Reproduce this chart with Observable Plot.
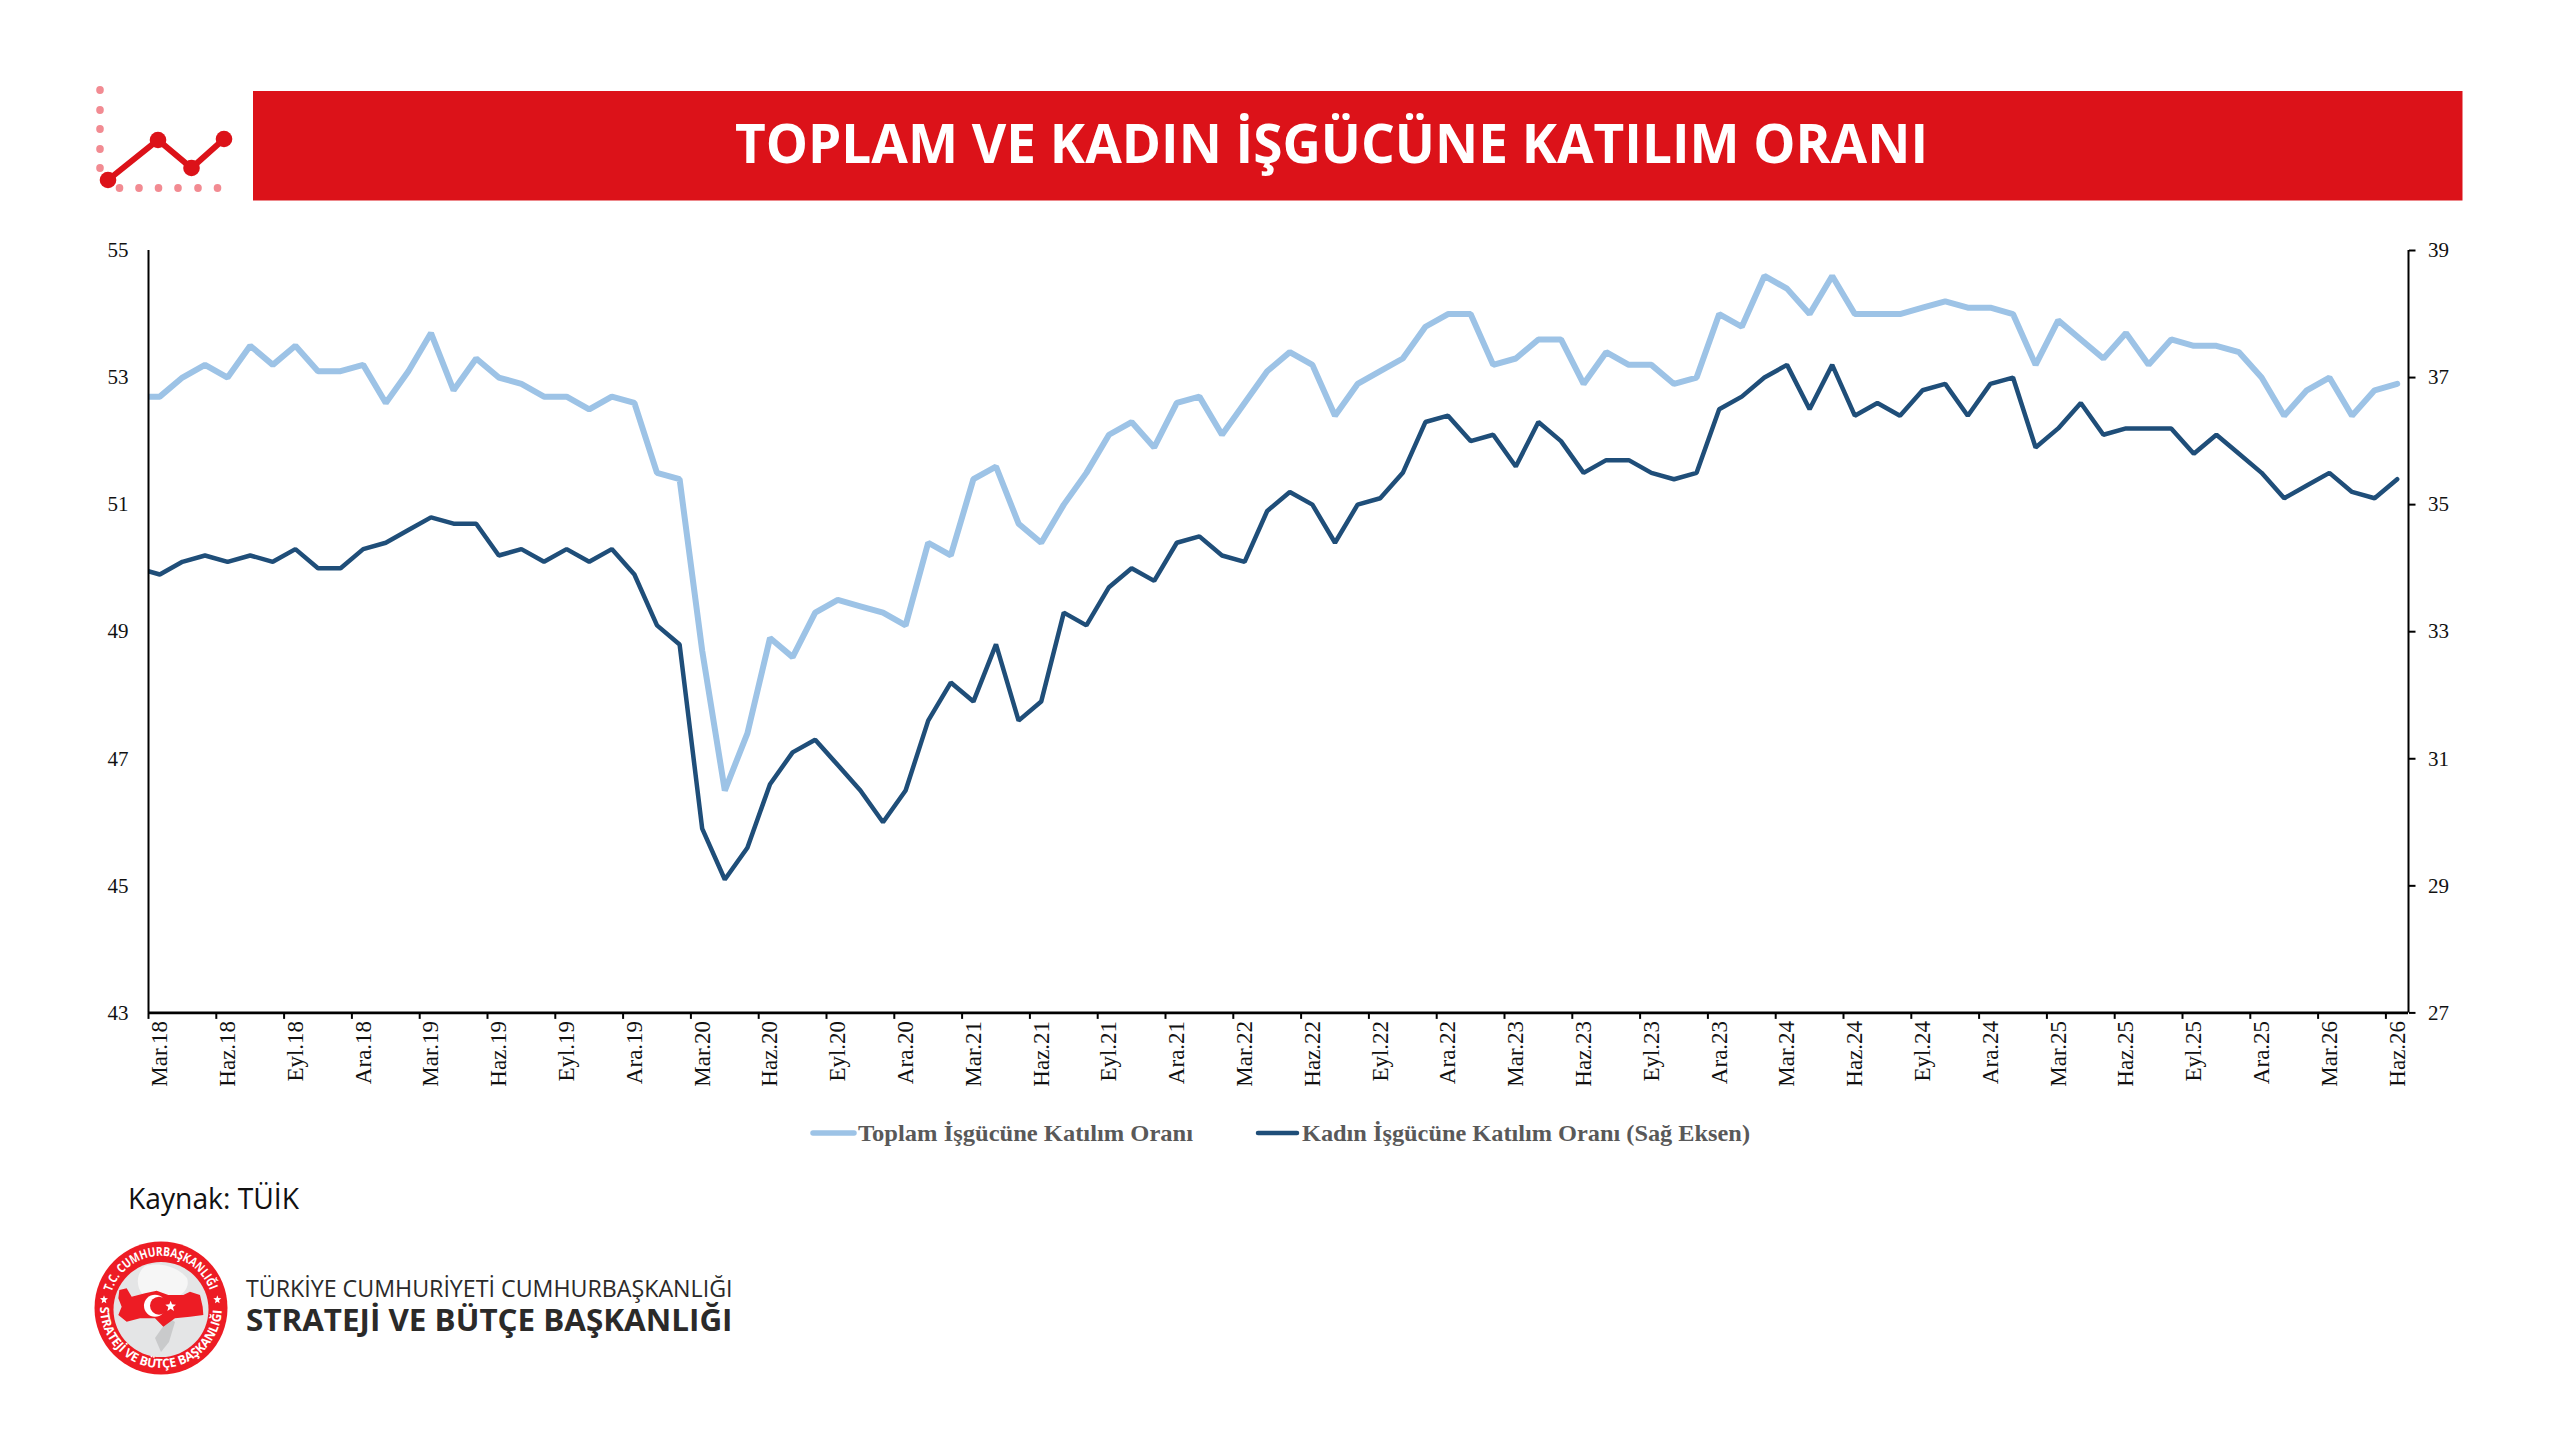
<!DOCTYPE html>
<html lang="tr">
<head>
<meta charset="utf-8">
<title>Toplam ve Kadın İşgücüne Katılım Oranı</title>
<script src="https://cdn.jsdelivr.net/npm/d3@7"></script>
<script src="https://cdn.jsdelivr.net/npm/@observablehq/plot@0.6"></script>
<style>
  html, body { margin: 0; padding: 0; background: #fff; overflow: hidden; }
  #page { position: relative; width: 2560px; height: 1441px; overflow: hidden; }
  #page > svg, #chart { position: absolute; }
  #chart { left: 0; top: 230px; }
  #chart svg { display: block; }
</style>
</head>
<body>
<div id="page">
  <!-- Header -->
  <svg style="left:0;top:0" width="2560" height="230" viewBox="0 0 2560 230">
    <g fill="#F28B92">
      <ellipse cx="100" cy="90" rx="3.8" ry="4"/><ellipse cx="100" cy="110" rx="3.8" ry="4"/>
      <ellipse cx="100" cy="129" rx="3.8" ry="4"/><ellipse cx="100" cy="149" rx="3.8" ry="4"/>
      <ellipse cx="100" cy="168" rx="3.8" ry="4"/>
      <ellipse cx="119.5" cy="188" rx="3.8" ry="4"/><ellipse cx="139" cy="188" rx="3.8" ry="4"/>
      <ellipse cx="158.5" cy="188" rx="3.8" ry="4"/><ellipse cx="178" cy="188" rx="3.8" ry="4"/>
      <ellipse cx="198" cy="188" rx="3.8" ry="4"/><ellipse cx="217.5" cy="188" rx="3.8" ry="4"/>
    </g>
    <polyline points="108,180 158,140 191.5,168 224,139" fill="none" stroke="#DC1219" stroke-width="6"/>
    <g fill="#DC1219">
      <circle cx="108" cy="180" r="8.3"/><circle cx="158" cy="140" r="8.3"/>
      <circle cx="191.5" cy="168" r="8.3"/><circle cx="224" cy="139" r="8.3"/>
    </g>
    <rect x="253" y="91" width="2209.5" height="109.5" fill="#DC1219"/>
    <text x="735" y="163" fill="#fff" font-family="'Open Sans'" font-weight="700" font-size="54"
      textLength="1193" lengthAdjust="spacingAndGlyphs">TOPLAM VE KADIN İŞGÜCÜNE KATILIM ORANI</text>
  </svg>

  <div id="chart"></div>

  <!-- Legend, source, logo -->
  <svg style="left:0;top:1100px" width="2560" height="341" viewBox="0 1100 2560 341">
    <line x1="813" x2="854" y1="1133" y2="1133" stroke="#9DC3E6" stroke-width="5.5" stroke-linecap="round"/>
    <text x="858" y="1140.5" fill="#595959" font-family="'Liberation Serif'" font-weight="700" font-size="24"
      textLength="335" lengthAdjust="spacingAndGlyphs">Toplam İşgücüne Katılım Oranı</text>
    <line x1="1258" x2="1297" y1="1133" y2="1133" stroke="#1F4E79" stroke-width="4.5" stroke-linecap="round"/>
    <text x="1302" y="1140.5" fill="#595959" font-family="'Liberation Serif'" font-weight="700" font-size="24"
      textLength="448" lengthAdjust="spacingAndGlyphs">Kadın İşgücüne Katılım Oranı (Sağ Eksen)</text>

    <text x="128" y="1209" fill="#111" font-family="'Open Sans'" font-size="30"
      textLength="171" lengthAdjust="spacingAndGlyphs">Kaynak: TÜİK</text>

    <g transform="translate(161 1308)">
      <circle r="66.5" fill="#ED1C24"/>
      <circle r="47.5" cy="1.5" fill="#E4E5E6"/>
      <path d="M-16 -42 C-30 -30 -22 -8 -6 -8 C18 -6 30 -18 26 -30 C16 -42 -2 -46 -16 -42Z" fill="#F6F6F6"/>
      <path d="M8 10 L-6 30 L0 44 L8 34 L14 14Z" fill="#C9CACB"/>
      <g transform="translate(-161 -1308) translate(90 1240) scale(0.3333)">
        <path fill="#ED1C24" d="M88 150 L110 145 L125 170 L165 160 L200 152 L235 165 L280 165 L300 155 L330 165 L338 200 L340 225 L300 230 L255 235 L220 260 L195 235 L150 235 L110 245 L85 225 L95 200 L85 175Z"/>
        <circle cx="195" cy="197" r="33" fill="#fff"/>
        <circle cx="207" cy="197" r="27" fill="#ED1C24"/>
        <polygon fill="#fff" points="242,182 246,193 258,194 249,201 252,213 242,206 232,213 235,201 226,194 238,193"/>
        <polygon fill="#fff" points="42,166 45,174 54,175 47,181 49,190 42,185 35,190 37,181 30,175 39,174"/>
        <polygon fill="#fff" points="382,166 385,174 394,175 387,181 389,190 382,185 375,190 377,181 370,175 379,174"/>
      </g>
      <path id="arcTop" d="M-49.5 -16 A52 52 0 0 1 49.5 -16" fill="none"/>
      <path id="arcBottom" d="M-61 -1 A61 61 0 1 0 61 -1" fill="none"/>
      <text fill="#fff" font-family="'Open Sans'" font-weight="700" font-size="12.5">
        <textPath href="#arcTop" textLength="129" lengthAdjust="spacingAndGlyphs">T.C. CUMHURBAŞKANLIĞI</textPath>
      </text>
      <text fill="#fff" font-family="'Open Sans'" font-weight="700" font-size="12.5">
        <textPath href="#arcBottom" textLength="188" lengthAdjust="spacingAndGlyphs">STRATEJİ VE BÜTÇE BAŞKANLIĞI</textPath>
      </text>
    </g>

    <text x="246" y="1297" fill="#2B2A29" font-family="'Open Sans'" font-size="24.5"
      textLength="486.5" lengthAdjust="spacingAndGlyphs">TÜRKİYE CUMHURİYETİ CUMHURBAŞKANLIĞI</text>
    <text x="246" y="1331" fill="#2B2A29" font-family="'Open Sans'" font-weight="700" font-size="30"
      textLength="486.5" lengthAdjust="spacingAndGlyphs">STRATEJİ VE BÜTÇE BAŞKANLIĞI</text>
  </svg>
</div>

<script>
// Şub.18 opens each series: the line enters the frame from that month and is clipped at the axis.
const toplam = [
  52.7,
  52.7, 53.0, 53.2, 53.0, 53.5, 53.2, 53.5, 53.1, 53.1, 53.2, 52.6, 53.1,
  53.7, 52.8, 53.3, 53.0, 52.9, 52.7, 52.7, 52.5, 52.7, 52.6, 51.5, 51.4,
  48.7, 46.5, 47.4, 48.9, 48.6, 49.3, 49.5, 49.4, 49.3, 49.1, 50.4, 50.2,
  51.4, 51.6, 50.7, 50.4, 51.0, 51.5, 52.1, 52.3, 51.9, 52.6, 52.7, 52.1,
  52.6, 53.1, 53.4, 53.2, 52.4, 52.9, 53.1, 53.3, 53.8, 54.0, 54.0, 53.2,
  53.3, 53.6, 53.6, 52.9, 53.4, 53.2, 53.2, 52.9, 53.0, 54.0, 53.8, 54.6,
  54.4, 54.0, 54.6, 54.0, 54.0, 54.0, 54.1, 54.2, 54.1, 54.1, 54.0, 53.2,
  53.9, 53.6, 53.3, 53.7, 53.2, 53.6, 53.5, 53.5, 53.4, 53.0, 52.4, 52.8,
  53.0, 52.4, 52.8, 52.9
];
const kadin = [
  34.0,
  33.9, 34.1, 34.2, 34.1, 34.2, 34.1, 34.3, 34.0, 34.0, 34.3, 34.4, 34.6,
  34.8, 34.7, 34.7, 34.2, 34.3, 34.1, 34.3, 34.1, 34.3, 33.9, 33.1, 32.8,
  29.9, 29.1, 29.6, 30.6, 31.1, 31.3, 30.9, 30.5, 30.0, 30.5, 31.6, 32.2,
  31.9, 32.8, 31.6, 31.9, 33.3, 33.1, 33.7, 34.0, 33.8, 34.4, 34.5, 34.2,
  34.1, 34.9, 35.2, 35.0, 34.4, 35.0, 35.1, 35.5, 36.3, 36.4, 36.0, 36.1,
  35.6, 36.3, 36.0, 35.5, 35.7, 35.7, 35.5, 35.4, 35.5, 36.5, 36.7, 37.0,
  37.2, 36.5, 37.2, 36.4, 36.6, 36.4, 36.8, 36.9, 36.4, 36.9, 37.0, 35.9,
  36.2, 36.6, 36.1, 36.2, 36.2, 36.2, 35.8, 36.1, 35.8, 35.5, 35.1, 35.3,
  35.5, 35.2, 35.1, 35.4
];
const etiketler = [
  "Mar.18","Haz.18","Eyl.18","Ara.18","Mar.19","Haz.19","Eyl.19","Ara.19",
  "Mar.20","Haz.20","Eyl.20","Ara.20","Mar.21","Haz.21","Eyl.21","Ara.21",
  "Mar.22","Haz.22","Eyl.22","Ara.22","Mar.23","Haz.23","Eyl.23","Ara.23",
  "Mar.24","Haz.24","Eyl.24","Ara.24","Mar.25","Haz.25","Eyl.25","Ara.25",
  "Mar.26","Haz.26"
];
const solEksen = [43, 45, 47, 49, 51, 53, 55];
const sagEksen = [27, 29, 31, 33, 35, 37, 39];

// Month number 0 = Mar.18; the leading entry of each series is month -1.
const ay = toplam.map((_, i) => i - 1);
const etiketAy = etiketler.map((_, i) => i * 3);
const sagdanSola = d3.scaleLinear(d3.extent(sagEksen), d3.extent(solEksen));

const serif = "'Liberation Serif'";
const plot = Plot.plot({
  width: 2560,
  height: 870,
  marginLeft: 148,
  marginRight: 152,
  marginTop: 20,
  marginBottom: 87.6,
  style: { background: "transparent", fontFamily: serif },
  x: { type: "linear", domain: [-0.5, 99.5], axis: null },
  y: { type: "linear", domain: [43, 55], axis: null },
  marks: [
    Plot.line(ay, { x: d => d, y: (d, i) => toplam[i], stroke: "#9DC3E6", strokeWidth: 6,
      strokeLinejoin: "miter", strokeLinecap: "round", clip: true }),
    Plot.line(ay, { x: d => d, y: (d, i) => sagdanSola(kadin[i]), stroke: "#1F4E79", strokeWidth: 4.5,
      strokeLinejoin: "miter", strokeLinecap: "round", clip: true }),
    Plot.axisY({ anchor: "left", ticks: solEksen, tickSize: 0, tickPadding: 20, fontSize: 21,
      fill: "#111", tickFormat: d => String(d), label: null }),
    Plot.axisY({ anchor: "right", ticks: solEksen, tickSize: 6.5, tickPadding: 13, fontSize: 21,
      stroke: "#000", strokeWidth: 2, fill: "#111", tickFormat: (d, i) => String(sagEksen[i]), label: null }),
    Plot.axisX({ anchor: "bottom", ticks: etiketAy.map(d => d - 0.5), tickSize: 6.5, tickFormat: () => "",
      stroke: "#000", strokeWidth: 2, label: null }),
    Plot.ruleX([-0.5, 99.5], { stroke: "#000", strokeWidth: 2 }),
    Plot.ruleY([43], { stroke: "#000", strokeWidth: 2.6 }),
    Plot.text(etiketler, { x: (d, i) => etiketAy[i], y: () => 43, text: d => d, rotate: -90,
      textAnchor: "end", lineAnchor: "middle", dy: 8, fontSize: 23, fill: "#111" })
  ]
});
document.getElementById("chart").appendChild(plot);
</script>
</body>
</html>
